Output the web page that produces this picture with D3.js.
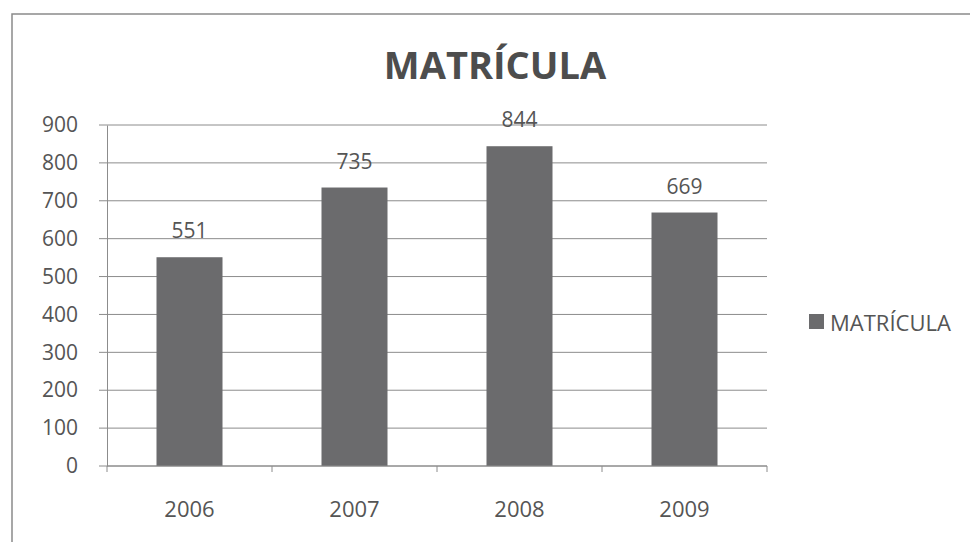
<!DOCTYPE html>
<html><head><meta charset="utf-8">
<script src="https://cdn.jsdelivr.net/npm/d3@7"></script>
<style>body{margin:0;background:#fff}svg{display:block}text{font-family:"Open Sans","Noto Sans",sans-serif}</style>
</head><body>
<svg id="c" width="970" height="542"></svg>
<script>
const categories = ["2006","2007","2008","2009"];
const values = [551,735,844,669];
const yTicks = [0,100,200,300,400,500,600,700,800,900];
const seriesName = "MATRÍCULA";
const title = "MATRÍCULA";

const svg = d3.select("#c");
svg.append("rect").attr("x",12).attr("y",14).attr("width",980).attr("height",560)
  .attr("fill","#fff").attr("stroke","#8a8a8a").attr("stroke-width",1.5);

const L=107,R=767,T=125,B=466;
const x = d3.scaleBand().domain(categories).range([L,R]).paddingInner(0.6).paddingOuter(0.3);
const y = d3.scaleLinear().domain([0,900]).range([B,T]);

svg.append("text").attr("x",495).attr("y",64).attr("text-anchor","middle")
  .attr("dominant-baseline","central").attr("font-size",38).attr("font-weight","bold")
  .attr("fill","#4d4d4d").text(title);

// gridlines
svg.append("g").selectAll("line").data(yTicks).join("line")
  .attr("x1",L-8).attr("x2",R).attr("y1",d=>y(d)).attr("y2",d=>y(d))
  .attr("stroke","#8c8c8c").attr("stroke-width",1);

const ya = svg.append("g").attr("transform",`translate(${L},0)`)
  .call(d3.axisLeft(y).tickValues(yTicks).tickSize(0).tickPadding(29));
ya.select(".domain").attr("stroke","#8c8c8c");
ya.selectAll("text").attr("font-size",21).attr("fill","#555").attr("font-family","Open Sans");

// bars
svg.append("g").selectAll("rect").data(values).join("rect")
  .attr("x",(d,i)=>x(categories[i])).attr("width",x.bandwidth())
  .attr("y",d=>y(d)).attr("height",d=>B-y(d)).attr("fill","#6b6b6d");

svg.append("g").selectAll("text").data(values).join("text")
  .attr("x",(d,i)=>x(categories[i])+x.bandwidth()/2).attr("y",d=>y(d)-27)
  .attr("text-anchor","middle").attr("dominant-baseline","central")
  .attr("font-size",21).attr("fill","#555").text(d=>d);

// x axis
svg.append("line").attr("x1",L).attr("x2",R).attr("y1",B).attr("y2",B).attr("stroke","#8c8c8c");
const bounds = d3.range(categories.length+1).map(i=>L+i*x.step());
svg.append("g").selectAll("line").data(bounds).join("line")
  .attr("x1",d=>d).attr("x2",d=>d).attr("y1",B).attr("y2",B+6).attr("stroke","#8c8c8c");
svg.append("g").selectAll("text").data(categories).join("text")
  .attr("x",d=>x(d)+x.bandwidth()/2).attr("y",508).attr("text-anchor","middle")
  .attr("dominant-baseline","central").attr("font-size",22).attr("fill","#555").text(d=>d);

// legend
svg.append("rect").attr("x",809).attr("y",314).attr("width",15).attr("height",15).attr("fill","#6b6b6d");
svg.append("text").attr("x",830).attr("y",322).attr("dominant-baseline","central")
  .attr("font-size",22).attr("fill","#555").text(seriesName);
</script>
</body></html>
